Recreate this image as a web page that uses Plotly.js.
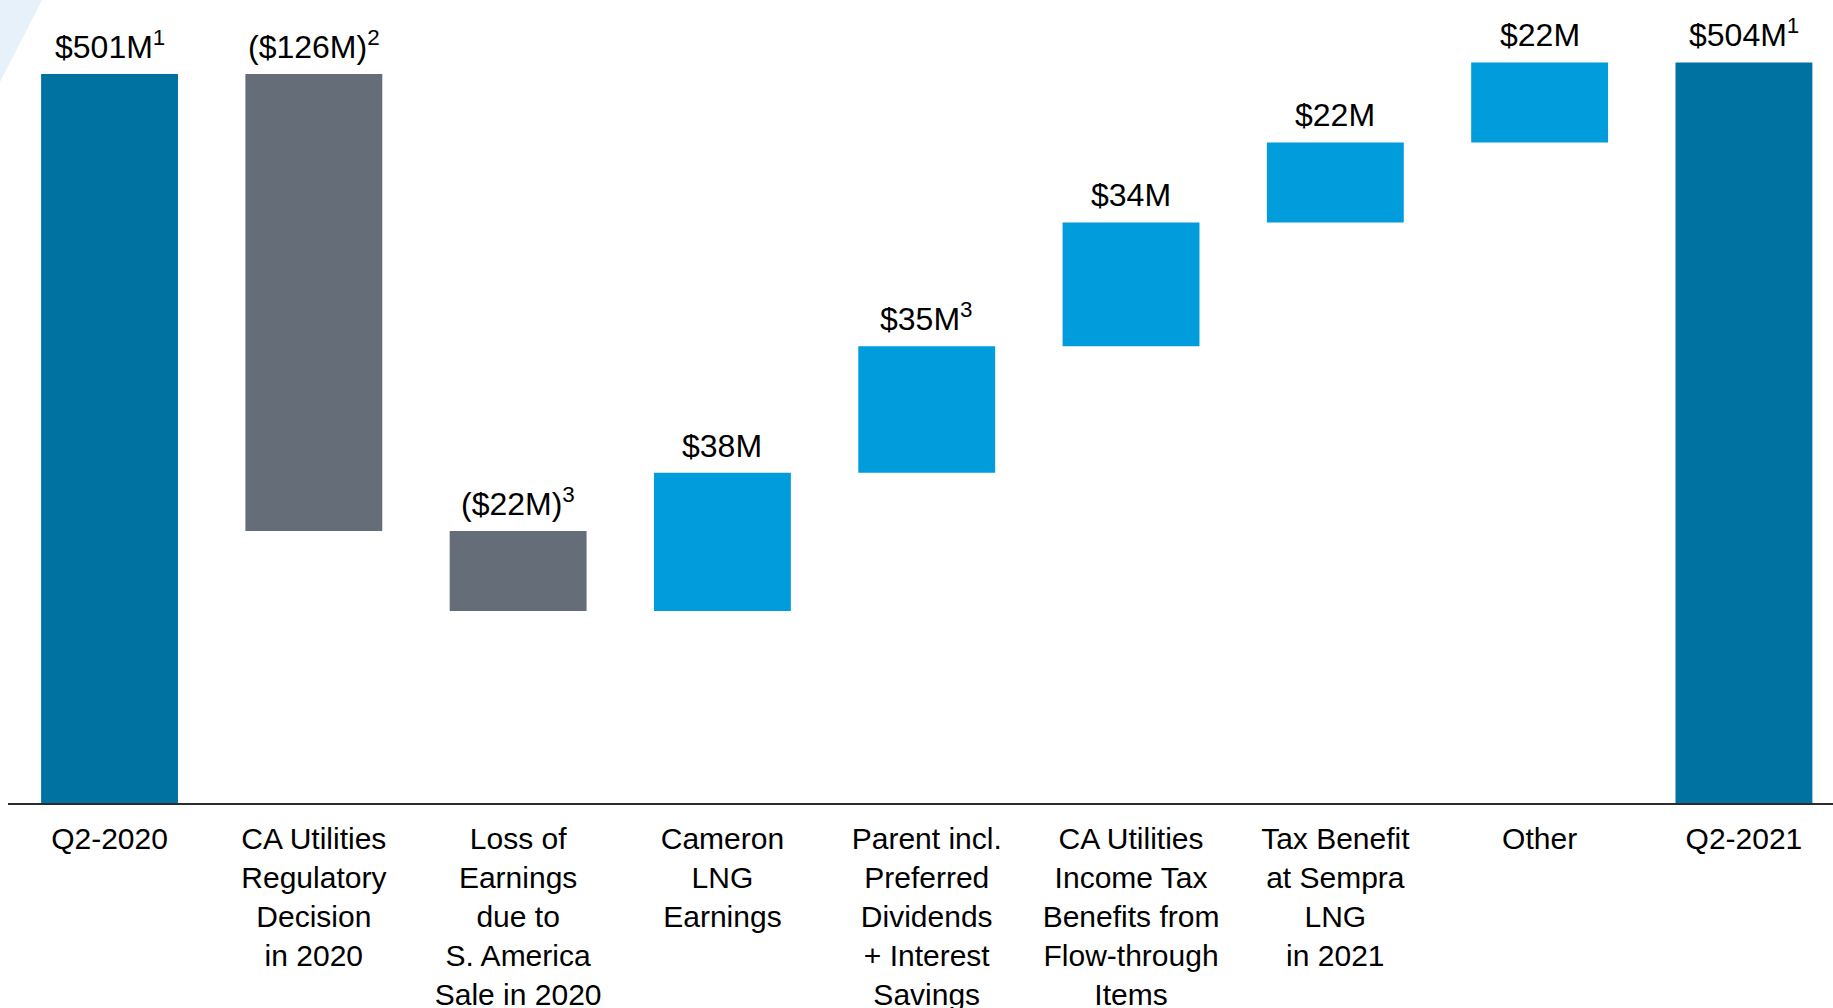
<!DOCTYPE html>
<html>
<head>
<meta charset="utf-8">
<script src="https://cdn.plot.ly/plotly-3.0.1.min.js"></script>
<style>
  html, body { margin: 0; padding: 0; background: #ffffff; }
  #chart { width: 1833px; height: 1008px; }
</style>
</head>
<body>
<div id="chart"></div>
<script>
// ---- Data (bar extents in the chart's drawn scale) ----
const categories = [
  'Q2-2020',
  'CA Utilities<br>Regulatory<br>Decision<br>in 2020',
  'Loss of<br>Earnings<br>due to<br>S. America<br>Sale in 2020',
  'Cameron<br>LNG<br>Earnings',
  'Parent incl.<br>Preferred<br>Dividends<br>+ Interest<br>Savings',
  'CA Utilities<br>Income Tax<br>Benefits from<br>Flow-through<br>Items',
  'Tax Benefit<br>at Sempra<br>LNG<br>in 2021',
  'Other',
  'Q2-2021'
];
const valueLabels = [
  '$501M<sup>1</sup>', '($126M)<sup>2</sup>', '($22M)<sup>3</sup>', '$38M',
  '$35M<sup>3</sup>', '$34M', '$22M', '$22M', '$504M<sup>1</sup>'
];
const barBase = [0, 187, 132, 132, 227, 314, 399, 454, 0];
const barTop  = [501, 501, 187, 227, 314, 399, 454, 509, 509];
const barKind = ['total', 'decrease', 'decrease', 'increase', 'increase',
                 'increase', 'increase', 'increase', 'total'];

// ---- Styles ----
const kindColor = { total: '#0072A2', decrease: '#656D79', increase: '#009CDC' };
const FONT = '"Liberation Sans", Arial, Helvetica, sans-serif';

const W = 1833, H = 1008;
const M = { l: 8, r: 0, t: 0, b: 205 };
const plotW = W - M.l - M.r, plotH = H - M.t - M.b;
// pixel -> paper helpers for the decorative corner wedge
const px = v => (v - M.l) / plotW;
const py = v => 1 - (v - M.t) / plotH;

const trace = {
  type: 'bar',
  x: categories,
  base: barBase,
  y: barTop.map((t, i) => t - barBase[i]),
  width: 0.67,
  marker: { color: barKind.map(k => kindColor[k]), line: { width: 0 } },
  hoverinfo: 'skip',
  cliponaxis: false
};

const annotations = categories.map((c, i) => ({
  x: c, y: barTop[i], xref: 'x', yref: 'y',
  text: valueLabels[i], showarrow: false,
  yanchor: 'bottom', xanchor: 'center', yshift: 7,
  font: { family: FONT, size: 32, color: '#000000' }
}));

const layout = {
  width: W, height: H,
  margin: M,
  paper_bgcolor: '#ffffff', plot_bgcolor: '#ffffff',
  showlegend: false,
  bargap: 0.33,
  xaxis: {
    type: 'category',
    range: [-0.497, 8.436],
    showline: true, linecolor: '#2b2b2b', linewidth: 2,
    showgrid: false, zeroline: false, ticks: '',
    ticklabelstandoff: 8,
    tickfont: { family: FONT, size: 30, color: '#000000' },
    fixedrange: true
  },
  yaxis: {
    range: [0, 551.9],
    visible: false, showgrid: false, zeroline: false,
    fixedrange: true
  },
  annotations: annotations,
  shapes: [{
    type: 'path', xref: 'paper', yref: 'paper', layer: 'below',
    path: 'M ' + px(0) + ' ' + py(0) + ' L ' + px(42) + ' ' + py(0) +
          ' L ' + px(0) + ' ' + py(82) + ' Z',
    fillcolor: '#E6F1F9', line: { width: 0 }
  }]
};

Plotly.newPlot('chart', [trace], layout, { displayModeBar: false, staticPlot: true });
</script>
</body>
</html>
